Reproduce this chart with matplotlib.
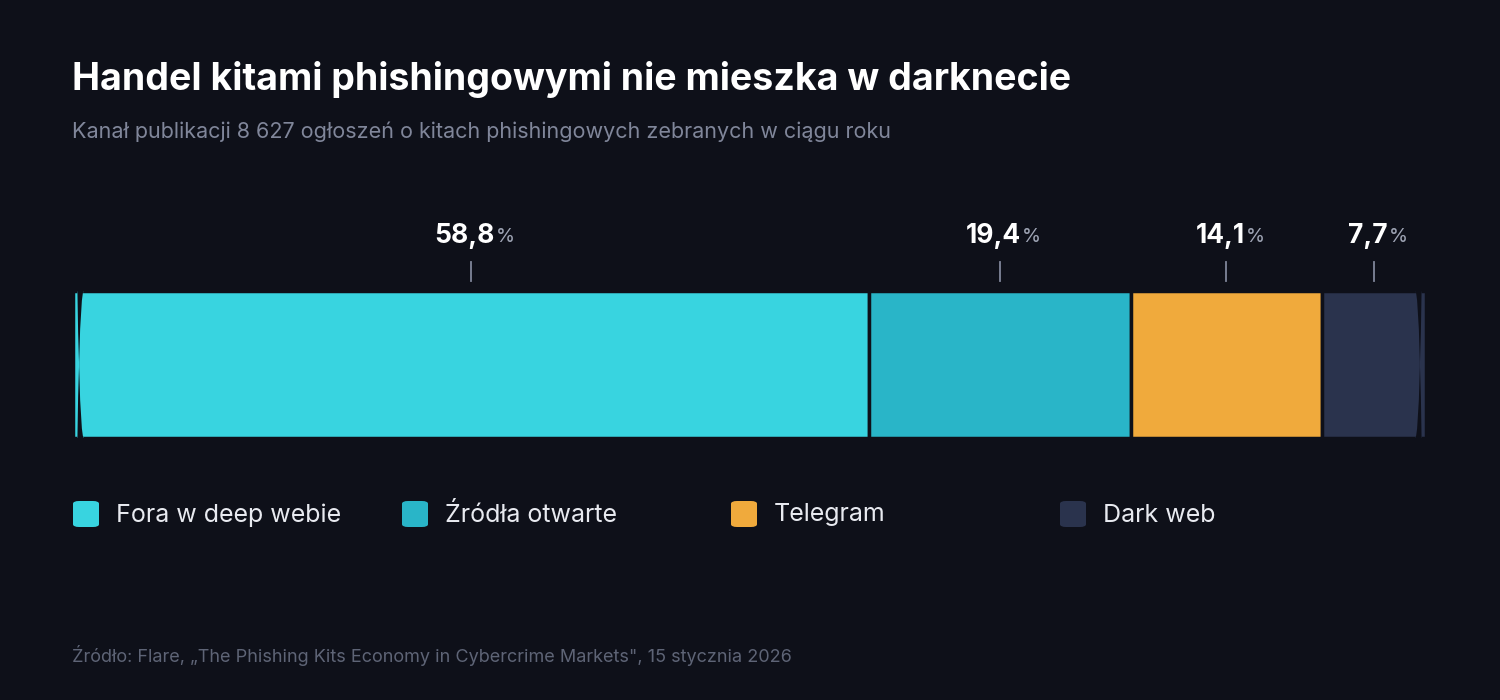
import matplotlib
matplotlib.use('Agg')
import matplotlib.pyplot as plt
from matplotlib.patches import FancyBboxPatch

plt.rcParams['font.family'] = ['Inter', 'DejaVu Sans']

# data
channels = ['Fora w deep webie', 'Źródła otwarte', 'Telegram', 'Dark web']
shares = [58.8, 19.4, 14.1, 7.7]
share_labels = ['58,8', '19,4', '14,1', '7,7']
colors = ['#38D4E0', '#29B5C8', '#F0AA3C', '#2A334D']

bg = '#0E1019'
W, H = 1500, 700
fig = plt.figure(figsize=(15, 7), dpi=100, facecolor=bg)

def px(x, y):
    return x / W, 1 - y / H

fig.text(*px(72, 80), 'Handel kitami phishingowymi nie mieszka w darknecie',
         color='white', fontsize=27, fontweight='bold', va='center')
fig.text(*px(72, 132), 'Kanał publikacji 8 627 ogłoszeń o kitach phishingowych zebranych w ciągu roku',
         color='#80869A', fontsize=15.5, va='center')
fig.text(*px(72, 655), 'Źródło: Flare, „The Phishing Kits Economy in Cybercrime Markets", 15 stycznia 2026',
         color='#5E6476', fontsize=13, va='center')

# bar
bx0, bx1, by0, by1 = 73, 1426, 291, 438
ax = fig.add_axes([bx0 / W, 1 - by1 / H, (bx1 - bx0) / W, (by1 - by0) / H])
ax.set_xlim(0, 100)
ax.set_ylim(0, 1)
ax.axis('off')
clip = FancyBboxPatch((0, 0), 100, 1, boxstyle='round,pad=0,rounding_size=0.8',
                      mutation_aspect=1353 / 147, transform=ax.transData,
                      facecolor='none', edgecolor='none')
ax.add_patch(clip)
left = 0
centers = []
for s, c in zip(shares, colors):
    b = ax.barh(0.5, s, left=left, height=1, color=c, edgecolor=bg, linewidth=2.5)
    b[0].set_clip_path(clip)
    centers.append(left + s / 2)
    left += s

# percent labels with ticks
fig.canvas.draw()
r = fig.canvas.get_renderer()
for cx, lab in zip(centers, share_labels):
    ax.annotate('', xy=(cx, 1), xytext=(cx, 1), xycoords='data',
                textcoords='offset points')
    ax.plot([cx, cx], [1 + 10 / 147, 1 + 29 / 147], color='#80869A', lw=1.3, clip_on=False)
    t = ax.annotate(lab, xy=(cx, 1), xytext=(-6, 55), textcoords='offset pixels',
                    ha='center', va='center', color='white', fontsize=19, fontweight='bold')
    bb = t.get_window_extent(r)
    fig.text(bb.x1 / W + 1 / W, (bb.y0 + bb.y1) / 2 / H - 1 / H, '%', color='#A0A6B6',
             fontsize=14, va='center', ha='left')

# legend
for i, (name, c) in enumerate(zip(channels, colors)):
    x = 73 + i * 329
    fig.patches.append(FancyBboxPatch(px(x, 527), 26 / W, 26 / H,
                                      boxstyle='round,pad=0,rounding_size=0.004',
                                      transform=fig.transFigure, facecolor=c, edgecolor='none'))
    fig.text(*px(x + 43, 515), name, color='#E8EAF0', fontsize=18, va='center')

fig.savefig('out.png', facecolor=bg)
